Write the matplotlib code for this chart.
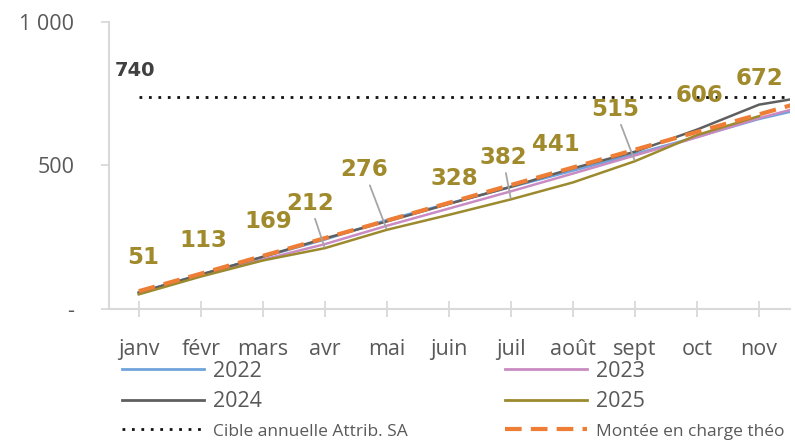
import numpy as np
import matplotlib
matplotlib.use("Agg")
import matplotlib.pyplot as plt
from matplotlib.lines import Line2D

# ---------------- data ----------------
months = ["janv", "févr", "mars", "avr", "mai", "juin", "juil", "août", "sept", "oct", "nov", "déc"]
s2022 = [58, 120, 181, 242, 310, 368, 425, 482, 540, 600, 662, 712]
s2023 = [55, 116, 172, 226, 290, 350, 410, 472, 535, 598, 665, 722]
s2024 = [57, 120, 182, 246, 305, 366, 426, 490, 548, 625, 712, 748]
s2025 = [51, 113, 169, 212, 276, 328, 382, 441, 515, 606, 672]
theo = [62, 123, 185, 247, 308, 370, 432, 493, 555, 617, 678, 740]
target = 740
ytick_vals = [0, 500, 1000]
ytick_labels = ["-", "500", "1 000"]

# ---------------- style ----------------
C2022 = "#6fa3dc"
C2023 = "#c98bc2"
C2024 = "#5f5f5f"
C2025 = "#9c8a2e"
CTHEO = "#ee7d35"
LABEL_C = "#a08a2c"
TXT = "#595959"
AXC = "#d9d9d9"
FONT = "Open Sans"

# label offsets (pixels) relative to the 2025 point, and whether a leader line is drawn
label_offsets = [(4, 37), (3, 36), (5, 39), (-15, 45), (-23, 60), (5, 36),
                 (-8, 42), (-17, 38), (-20, 52), (3, 40), (1, 38)]
leaders = [False, False, False, True, True, False, True, False, True, False, False]

W, H = 795, 443
fig = plt.figure(figsize=(W / 100, H / 100), dpi=100)
ax = fig.add_axes([109 / W, 1 - 309 / H, (790 - 109) / W, (309 - 22) / H])

x = np.arange(len(months))
lw = 1.8
ax.plot(x[:len(s2022)], s2022, color=C2022, lw=lw, zorder=2)
ax.plot(x[:len(s2023)], s2023, color=C2023, lw=lw, zorder=2)
ax.plot(x[:len(s2024)], s2024, color=C2024, lw=lw, zorder=2)
ax.plot(x[:len(s2025)], s2025, color=C2025, lw=lw, zorder=3)
ax.plot(x[:len(theo)], theo, color=CTHEO, lw=3, ls=(0, (4, 2.2)), zorder=4)
ax.plot(x, [target] * len(x), color="#111111", lw=2, ls=(0, (1, 2.4)), zorder=5)

xmin, xmax = -0.48, 10.5
ax.set_xlim(xmin, xmax)
ax.set_ylim(0, 1000)

# data labels for 2025
for i, v in enumerate(s2025):
    dx, dy = label_offsets[i]
    ap = None
    if leaders[i]:
        ap = dict(arrowstyle="-", color="#a6a6a6", lw=1.3, shrinkA=1, shrinkB=1)
    ax.annotate(str(v), xy=(x[i], v), xytext=(dx, dy), textcoords="offset pixels",
                ha="center", va="center", fontsize=16.5, fontweight="bold",
                family="DejaVu Sans", color=LABEL_C, arrowprops=ap, zorder=6,
                annotation_clip=False)

# target label
ax.annotate(str(target), xy=(x[0], target), xytext=(-4, 26), textcoords="offset pixels",
            ha="center", va="center", fontsize=14, fontweight="bold",
            family="DejaVu Sans", color="#404040", zorder=6)

# axes styling
for s in ["top", "right"]:
    ax.spines[s].set_visible(False)
for s in ["left", "bottom"]:
    ax.spines[s].set_color(AXC)
    ax.spines[s].set_linewidth(1.5)

vis = x <= xmax
ax.set_xticks(x[vis])
ax.set_xticklabels([m for m, k in zip(months, vis) if k], family=FONT, fontsize=15.5, color=TXT)
ax.set_yticks(ytick_vals)
ax.set_yticklabels(ytick_labels, family=FONT, fontsize=15.5, color=TXT)
ax.tick_params(axis="x", direction="inout", length=11, width=1.3, color=AXC, pad=16)
ax.tick_params(axis="y", direction="out", length=6, width=1.3, color=AXC, pad=19)

# legends (two columns)
h2022 = Line2D([], [], color=C2022, lw=2)
h2023 = Line2D([], [], color=C2023, lw=2)
h2024 = Line2D([], [], color=C2024, lw=2)
h2025 = Line2D([], [], color=C2025, lw=2)
hcib = Line2D([], [], color="#111111", lw=2, ls=(0, (1, 2.4)))
htheo = Line2D([], [], color=CTHEO, lw=3, ls=(0, (4, 2.2)))

common = dict(frameon=False, loc="upper left", borderaxespad=0, borderpad=0,
              handlelength=3.8, handletextpad=0.45, labelspacing=0.42,
              prop={"family": FONT, "size": 15.5})
leg1 = fig.legend([h2022, h2024, hcib], ["2022", "2024", "Cible annuelle Attrib. SA"],
                  bbox_to_anchor=(122 / W, 1 - 361 / H), **common)
leg2 = fig.legend([h2023, h2025, htheo], ["2023", "2025", "Montée en charge théo"],
                  bbox_to_anchor=(505 / W, 1 - 361 / H), **common)
for leg in (leg1, leg2):
    for t in leg.get_texts():
        t.set_color(TXT)
    leg.get_texts()[2].set_fontsize(12.5)

fig.savefig("out.png", dpi=100)
